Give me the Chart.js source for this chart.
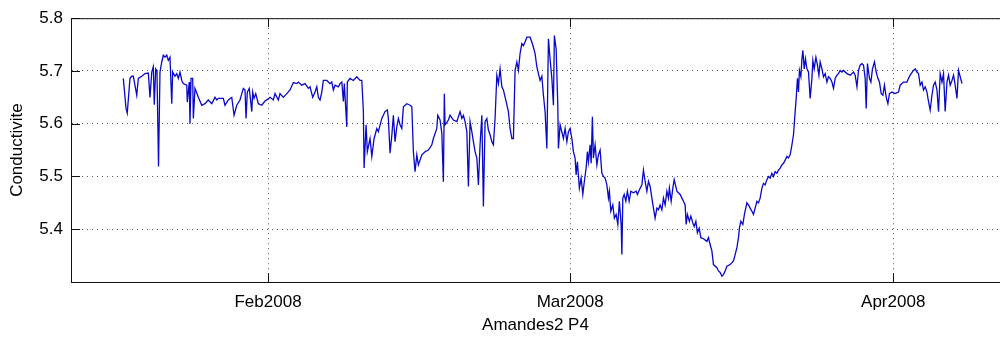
<!DOCTYPE html>
<html>
<head>
    <title>Amandes2 P4 - Conductivite</title>
    <meta charset="utf-8">
    <script src="https://cdn.jsdelivr.net/npm/chart.js@4.4.0/dist/chart.umd.min.js"></script>
    <style>
        html, body { margin: 0; padding: 0; background: #fff; overflow: hidden; }
        #wrap { width: 1000px; height: 346px; }
    </style>
</head>
<body>
    <div id="wrap"><canvas id="chart" width="1000" height="346"></canvas></div>

    <script>
        // time in days counted from 1 Jan 2008 (0 = Jan 1 00:00)
        const days = [
            17.11,17.37,17.49,17.75,17.92,18.07,18.40,18.55,18.88,19.19,
            19.51,19.67,19.84,19.99,20.08,20.22,20.34,20.49,20.63,20.80,
            20.95,21.11,21.28,21.43,21.59,21.76,21.85,22.07,22.24,22.39,
            22.55,22.72,22.87,23.20,23.25,23.44,23.51,23.61,23.77,23.83,
            23.99,24.31,24.64,24.95,25.27,25.60,25.91,26.08,26.23,26.71,
            26.87,27.19,27.52,27.74,28.00,28.31,28.63,28.79,28.89,29.01,
            29.20,29.44,29.53,29.66,29.82,30.07,30.40,30.71,31.03,31.19,
            31.51,31.67,31.99,32.15,32.47,32.80,33.11,33.43,33.76,33.91,
            34.24,34.55,34.87,35.03,35.29,35.51,35.68,35.83,35.99,36.16,
            36.31,36.64,36.95,37.12,37.27,37.43,37.75,37.91,38.08,38.23,
            38.32,38.56,38.61,38.87,39.19,39.52,39.83,40.00,40.15,40.22,
            40.41,40.53,40.79,40.96,41.18,41.44,41.59,41.92,42.23,42.45,
            42.55,42.71,42.88,43.03,43.19,43.36,43.51,43.67,43.84,43.99,
            44.32,44.63,44.80,44.95,45.11,45.28,45.43,45.76,46.07,46.39,
            46.72,46.87,47.20,47.29,47.51,47.68,47.83,47.92,47.99,48.31,
            48.47,48.79,49.12,49.43,49.60,49.75,49.91,50.08,50.23,50.39,
            50.56,50.71,50.87,51.04,51.19,51.35,51.52,51.67,51.83,52.00,
            52.15,52.31,52.48,52.63,52.79,52.96,53.11,53.27,53.44,53.59,
            53.85,54.07,54.23,54.40,54.55,54.71,54.88,55.03,55.19,55.36,
            55.51,55.67,55.84,55.99,56.15,56.32,56.47,56.63,56.80,56.95,
            57.11,57.28,57.43,57.59,57.76,57.91,58.07,58.24,58.39,58.48,
            58.65,58.81,58.87,59.03,59.35,59.51,59.68,59.83,59.99,60.16,
            60.31,60.47,60.57,60.69,60.88,61.05,61.21,61.36,61.53,61.65,
            61.75,61.91,62.01,62.13,62.23,62.39,62.56,62.71,62.87,63.04,
            63.19,63.35,63.52,63.67,63.76,63.90,64.09,64.24,64.41,64.57,
            64.72,64.89,64.96,65.05,65.18,65.34,65.49,65.66,65.82,66.07,
            66.33,66.45,66.64,66.88,67.03,67.19,67.36,67.51,67.67,67.84,
            67.99,68.15,68.32,68.47,68.63,68.80,68.95,69.11,69.28,69.43,
            69.52,69.69,69.85,69.98,70.10,70.24,70.55,70.72,70.87,71.03,
            71.13,71.25,71.44,71.58,71.77,71.90,72.06,72.21,72.38,72.54,
            72.79,73.12,73.27,73.43,73.60,73.75,74.08,74.23,74.39,74.56,
            74.71,74.87,75.04,75.35,75.67,75.83,76.00,76.15,76.24,76.38,
            76.57,76.72,76.96,77.11,77.27,77.44,77.59,77.75,77.92,78.07,
            78.23,78.40,78.55,78.71,78.88,79.03,79.19,79.36,79.51,79.67,
            79.84,79.99,80.15,80.32,80.47,80.63,80.80,80.95,81.11,81.28,
            81.43,81.59,81.69,81.81,81.91,82.00,82.14,82.24,82.33,82.46,
            82.58,82.72,82.87,83.03,83.20,83.29,83.42,83.58,83.73,83.87,
            83.99,84.16,84.31,84.47,84.64,84.79,84.95,85.12,85.27,85.43,
            85.60,85.75,85.91,86.08,86.23,86.56,86.87,87.19,87.35,87.52,
            87.67,87.83,87.99,88.15,88.31,88.41,88.53,88.72,88.86,89.01,
            89.20,89.37,89.53,89.68,89.85,90.01,90.16,90.33,90.49,90.64,
            90.88,91.19,91.51,91.67,91.99,92.32,92.47,92.63,92.95,93.11,
            93.28,93.43,93.59,93.76,93.91,94.07,94.24,94.39,94.55,94.72,
            94.87,95.03,95.20,95.35,95.51,95.68,95.83,95.99,96.16,96.31,
            96.47,96.64,96.79,96.95,97.12,97.27,97.43,97.60
        ];

        const conductivite = [
            5.686,5.629,5.620,5.686,5.690,5.690,5.654,5.686,5.690,5.695,
            5.696,5.650,5.698,5.708,5.636,5.704,5.700,5.519,5.698,5.717,
            5.730,5.726,5.730,5.720,5.726,5.638,5.698,5.690,5.695,5.686,
            5.698,5.682,5.676,5.673,5.641,5.679,5.600,5.686,5.686,5.610,
            5.667,5.650,5.635,5.638,5.645,5.638,5.650,5.645,5.648,5.648,
            5.635,5.645,5.650,5.616,5.635,5.645,5.667,5.664,5.610,5.660,
            5.667,5.623,5.660,5.648,5.657,5.638,5.635,5.643,5.647,5.650,
            5.645,5.657,5.645,5.657,5.650,5.657,5.664,5.678,5.676,5.679,
            5.673,5.676,5.667,5.670,5.650,5.660,5.670,5.650,5.645,5.660,
            5.682,5.682,5.676,5.679,5.664,5.673,5.670,5.676,5.679,5.642,
            5.676,5.594,5.679,5.686,5.682,5.689,5.682,5.682,5.623,5.516,
            5.598,5.547,5.572,5.538,5.572,5.591,5.585,5.610,5.623,5.626,
            5.610,5.544,5.578,5.616,5.566,5.594,5.610,5.598,5.591,5.632,
            5.638,5.635,5.632,5.547,5.509,5.541,5.522,5.541,5.547,5.550,
            5.560,5.572,5.591,5.616,5.607,5.582,5.490,5.657,5.598,5.607,
            5.616,5.607,5.604,5.623,5.610,5.616,5.604,5.585,5.481,5.604,
            5.585,5.566,5.547,5.535,5.484,5.560,5.616,5.443,5.604,5.610,
            5.588,5.579,5.566,5.560,5.610,5.692,5.676,5.704,5.670,5.664,
            5.642,5.623,5.591,5.572,5.572,5.701,5.717,5.701,5.733,5.752,
            5.748,5.755,5.764,5.764,5.764,5.755,5.745,5.733,5.708,5.695,
            5.682,5.690,5.654,5.623,5.553,5.761,5.723,5.686,5.635,5.767,
            5.742,5.635,5.553,5.598,5.572,5.591,5.566,5.585,5.591,5.572,
            5.547,5.535,5.503,5.528,5.478,5.497,5.466,5.491,5.516,5.547,
            5.528,5.560,5.525,5.613,5.535,5.560,5.522,5.541,5.550,5.506,
            5.500,5.497,5.484,5.459,5.472,5.434,5.446,5.421,5.428,5.409,
            5.453,5.409,5.352,5.459,5.466,5.453,5.472,5.453,5.472,5.469,
            5.472,5.466,5.475,5.484,5.512,5.491,5.472,5.491,5.481,5.459,
            5.440,5.421,5.440,5.437,5.446,5.437,5.459,5.446,5.472,5.459,
            5.478,5.453,5.478,5.494,5.484,5.472,5.466,5.459,5.453,5.446,
            5.409,5.428,5.415,5.425,5.412,5.405,5.415,5.393,5.402,5.384,
            5.382,5.377,5.384,5.371,5.359,5.333,5.327,5.321,5.318,5.311,
            5.314,5.321,5.330,5.333,5.340,5.352,5.365,5.384,5.402,5.415,
            5.409,5.428,5.450,5.446,5.440,5.434,5.428,5.440,5.453,5.450,
            5.459,5.478,5.487,5.484,5.494,5.500,5.497,5.506,5.500,5.509,
            5.506,5.512,5.516,5.522,5.525,5.531,5.538,5.535,5.541,5.560,
            5.579,5.623,5.648,5.686,5.660,5.701,5.689,5.723,5.739,5.704,
            5.723,5.704,5.698,5.648,5.686,5.720,5.704,5.726,5.711,5.692,
            5.717,5.704,5.689,5.695,5.679,5.689,5.686,5.679,5.667,5.686,
            5.692,5.695,5.701,5.698,5.701,5.695,5.692,5.698,5.692,5.670,
            5.701,5.711,5.714,5.711,5.686,5.629,5.714,5.686,5.679,5.704,
            5.717,5.698,5.686,5.679,5.657,5.654,5.673,5.650,5.638,5.657,
            5.660,5.657,5.660,5.673,5.679,5.679,5.686,5.692,5.701,5.704,
            5.698,5.695,5.673,5.679,5.664,5.670,5.660,5.642,5.626,5.654,
            5.673,5.679,5.664,5.623,5.695,5.679,5.695,5.623,5.679,5.692,
            5.673,5.682,5.692,5.673,5.648,5.701,5.689,5.676
        ];

        const monthTicks = [31, 60, 91];
        const monthLabels = ['Feb2008', 'Mar2008', 'Apr2008'];
        const yTicks = [5.4, 5.5, 5.6, 5.7, 5.8];
        const xRange = [12.09, 101.25];
        const yRange = [5.3, 5.8];

        const FONT = "'Liberation Sans', Arial, Helvetica, sans-serif";

        // matlab style box: top edge + inward tick marks
        const matlabBox = {
            id: 'matlabBox',
            afterDraw(chart) {
                const { ctx, chartArea: a, scales } = chart;
                const x = scales.x, y = scales.y;
                ctx.save();
                ctx.strokeStyle = '#111';
                ctx.lineWidth = 1;
                ctx.beginPath();
                ctx.moveTo(a.left, a.top + 0.5);
                ctx.lineTo(a.right, a.top + 0.5);
                monthTicks.forEach(v => {
                    const px = Math.round(x.getPixelForValue(v)) + 0.5;
                    ctx.moveTo(px, a.bottom);
                    ctx.lineTo(px, a.bottom - 9);
                    ctx.moveTo(px, a.top);
                    ctx.lineTo(px, a.top + 9);
                });
                yTicks.forEach(v => {
                    const py = Math.round(y.getPixelForValue(v)) + 0.5;
                    ctx.moveTo(a.left, py);
                    ctx.lineTo(a.left + 9, py);
                });
                ctx.stroke();
                ctx.restore();
            }
        };

        const points = days.map((d, i) => ({ x: d, y: conductivite[i] }));

        new Chart(document.getElementById('chart'), {
            type: 'line',
            data: {
                datasets: [{
                    data: points,
                    borderColor: '#0808c8',
                    borderWidth: 1.3,
                    pointRadius: 0,
                    tension: 0,
                    fill: false
                }]
            },
            options: {
                responsive: false,
                animation: false,
                devicePixelRatio: 1,
                layout: { padding: { left: 0, right: 0, top: 16, bottom: 0 } },
                plugins: {
                    legend: { display: false },
                    tooltip: { enabled: false }
                },
                scales: {
                    x: {
                        type: 'linear',
                        min: xRange[0],
                        max: xRange[1],
                        afterBuildTicks: s => { s.ticks = monthTicks.map(v => ({ value: v })); },
                        afterFit: s => { s.height = 64; },
                        ticks: {
                            autoSkip: false,
                            maxRotation: 0,
                            padding: 10,
                            color: '#000',
                            font: { family: FONT, size: 17 },
                            callback: v => monthLabels[monthTicks.indexOf(v)]
                        },
                        grid: { color: '#555', lineWidth: 1, drawTicks: false },
                        border: { display: true, color: '#111', width: 1, dash: [1, 4] },
                        title: {
                            display: true,
                            text: 'Amandes2 P4',
                            color: '#000',
                            font: { family: FONT, size: 17 },
                            padding: { top: 0, bottom: 10 }
                        }
                    },
                    y: {
                        min: yRange[0],
                        max: yRange[1],
                        afterBuildTicks: s => { s.ticks = yTicks.map(v => ({ value: v })); },
                        afterFit: s => { s.width = 71; },
                        ticks: {
                            padding: 8,
                            color: '#000',
                            font: { family: FONT, size: 17 },
                            callback: v => v.toFixed(1)
                        },
                        grid: { color: '#555', lineWidth: 1, drawTicks: false },
                        border: { display: true, color: '#111', width: 1, dash: [1, 4] },
                        title: {
                            display: true,
                            text: 'Conductivite',
                            color: '#000',
                            font: { family: FONT, size: 17 },
                            padding: { top: 7, bottom: 0 }
                        }
                    }
                }
            },
            plugins: [matlabBox]
        });
    </script>
</body>
</html>
